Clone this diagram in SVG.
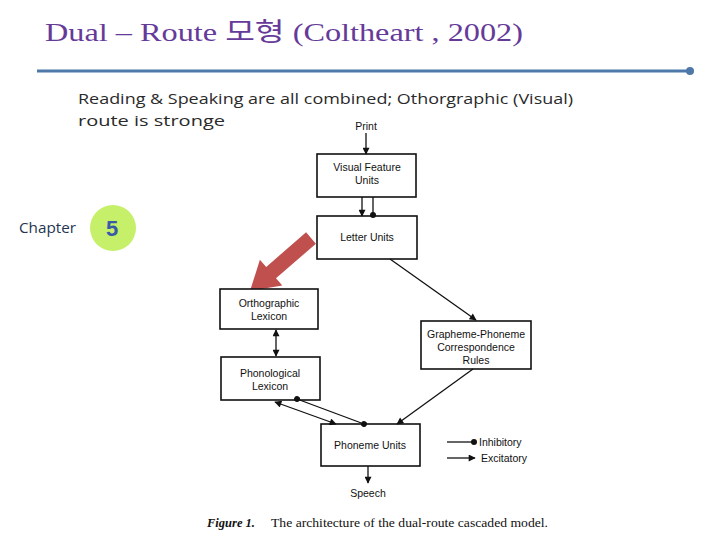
<svg xmlns="http://www.w3.org/2000/svg" width="720" height="540" viewBox="0 0 720 540">
<defs>
<marker id="ex" viewBox="0 0 10 10" refX="9" refY="5" markerWidth="8" markerHeight="7" markerUnits="userSpaceOnUse" orient="auto-start-reverse">
<path d="M0,0 L10,5 L0,10 z" fill="#111"/>
</marker>
<marker id="inh" viewBox="0 0 10 10" refX="5" refY="5" markerWidth="6" markerHeight="6" markerUnits="userSpaceOnUse" orient="auto">
<circle cx="5" cy="5" r="5" fill="#111"/>
</marker>
<style>
.box{fill:#fff;stroke:#111;stroke-width:1.6}
.lbl{font-family:"Liberation Sans",Arial,sans-serif;font-size:10.5px;fill:#111;text-anchor:middle}
.ln{stroke:#111;stroke-width:1.3;fill:none}
.ex{marker-end:url(#ex)}
.inh{marker-start:url(#inh);marker-end:url(#inh)}
</style>
</defs>
<rect width="720" height="540" fill="#fff"/>
<text x="45" y="41" font-family="'Liberation Serif','Noto Sans CJK KR',serif" font-size="26" fill="#663a98" textLength="478" lengthAdjust="spacingAndGlyphs">Dual – Route 모형 (Coltheart , 2002)</text>
<line x1="37" y1="71" x2="690" y2="71" stroke="#4d78a8" stroke-width="3"/>
<circle cx="690" cy="71" r="4" fill="#4d78a8"/>
<text x="78" y="104" font-family="'Open Sans','Liberation Sans',Arial,sans-serif" font-size="15" fill="#2a2a2a" textLength="495" lengthAdjust="spacingAndGlyphs">Reading &amp; Speaking are all combined; Othorgraphic (Visual)</text>
<text x="78" y="126" font-family="'Open Sans','Liberation Sans',Arial,sans-serif" font-size="15" fill="#2a2a2a" textLength="147" lengthAdjust="spacingAndGlyphs">route is stronge</text>
<g id="chapter">
<text x="19" y="233" font-family="'Open Sans','Liberation Sans',Arial,sans-serif" font-size="15" fill="#1f3550" textLength="57" lengthAdjust="spacingAndGlyphs">Chapter</text>
<circle cx="113" cy="228" r="23" fill="#c6ef6a"/>
<text x="106" y="236" font-family="'Liberation Sans',Arial,sans-serif" font-size="22" font-weight="bold" fill="#3b5aa6">5</text>
</g>
<polygon id="red-arrow" points="306.1,232.3 266.2,266.9 259.9,259.8 250,291 282.3,285.4 276,278.3 315.9,243.7" fill="#c0504d"/>
<text class="lbl" x="366" y="130">Print</text>
<g id="visual-feature-units">
<rect class="box" x="317" y="154" width="99" height="43"/>
<text class="lbl" x="367" y="171">Visual Feature</text>
<text class="lbl" x="367" y="184">Units</text>
</g>
<g id="letter-units">
<rect class="box" x="317" y="216" width="100" height="43"/>
<text class="lbl" x="367" y="241">Letter Units</text>
</g>
<g id="orthographic-lexicon">
<rect class="box" x="220" y="289" width="98" height="40"/>
<text class="lbl" x="269" y="307">Orthographic</text>
<text class="lbl" x="269" y="320">Lexicon</text>
</g>
<g id="phonological-lexicon">
<rect class="box" x="221" y="357" width="99" height="43"/>
<text class="lbl" x="270" y="377">Phonological</text>
<text class="lbl" x="270" y="390">Lexicon</text>
</g>
<g id="gpc-rules">
<rect class="box" x="421" y="321" width="110" height="48"/>
<text class="lbl" x="476" y="338">Grapheme-Phoneme</text>
<text class="lbl" x="476" y="351">Correspondence</text>
<text class="lbl" x="476" y="364">Rules</text>
</g>
<g id="phoneme-units">
<rect class="box" x="321" y="424" width="99" height="42"/>
<text class="lbl" x="370" y="449">Phoneme Units</text>
</g>
<text class="lbl" x="368" y="497">Speech</text>
<g id="connectors">
<line class="ln ex" x1="366" y1="133" x2="366" y2="154"/>
<line class="ln ex" x1="362" y1="197" x2="362" y2="216"/>
<line class="ln" x1="373" y1="197" x2="373" y2="215" marker-end="url(#inh)"/>
<line class="ln ex" x1="390" y1="259" x2="476" y2="320"/>
<line class="ln ex" x1="473" y1="369" x2="397" y2="424"/>
<line class="ln ex" x1="276" y1="330" x2="276" y2="356" marker-start="url(#ex)"/>
<line class="ln ex" x1="275" y1="402" x2="336" y2="424" marker-start="url(#ex)"/>
<line class="ln inh" x1="297" y1="399" x2="364" y2="424"/>
<line class="ln ex" x1="368" y1="466" x2="368" y2="483"/>
</g>
<g id="legend">
<line class="ln" x1="447" y1="442" x2="474" y2="442" marker-end="url(#inh)"/>
<text x="479" y="446" font-family="'Liberation Sans',Arial,sans-serif" font-size="10.5" fill="#111">Inhibitory</text>
<line class="ln ex" x1="447" y1="458" x2="475" y2="458"/>
<text x="481" y="462" font-family="'Liberation Sans',Arial,sans-serif" font-size="10.5" fill="#111">Excitatory</text>
</g>
<text x="207" y="527" font-family="'Liberation Serif','Times New Roman',serif" font-size="12.5" font-style="italic" font-weight="bold" fill="#111">Figure 1.</text>
<text x="271" y="527" font-family="'Liberation Serif','Times New Roman',serif" font-size="12.5" fill="#111" textLength="277" lengthAdjust="spacingAndGlyphs">The architecture of the dual-route cascaded model.</text>
</svg>
